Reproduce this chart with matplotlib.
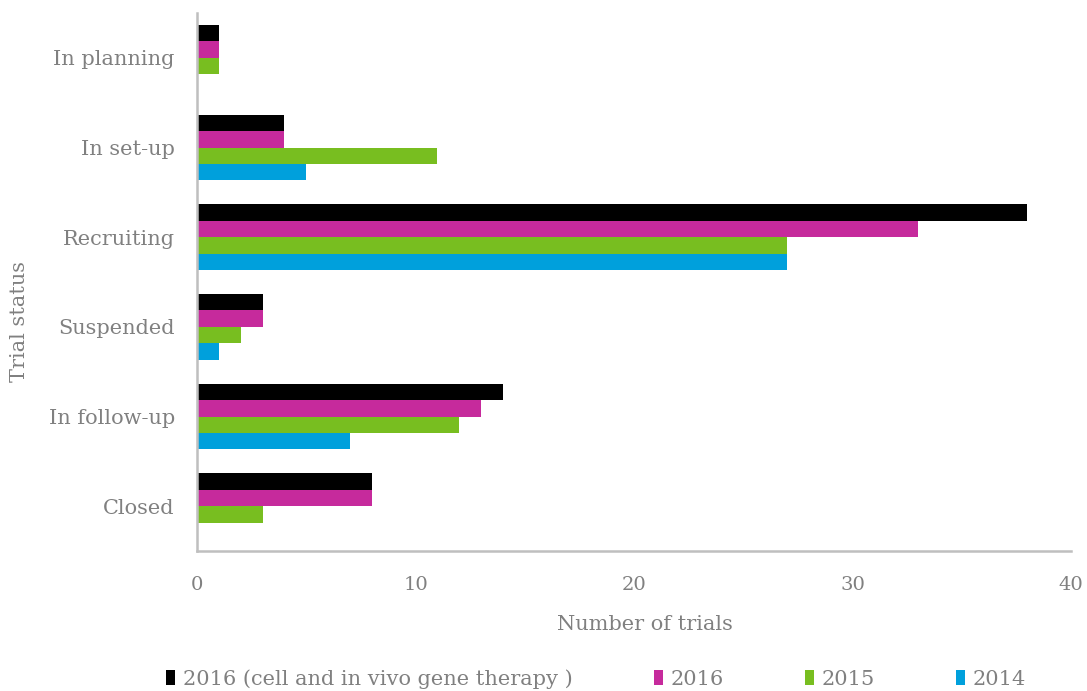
import matplotlib
matplotlib.use("Agg")
import matplotlib.pyplot as plt
import numpy as np

statuses = ["In planning", "In set-up", "Recruiting", "Suspended", "In follow-up", "Closed"]
series_names = ["2016 (cell and in vivo gene therapy )", "2016", "2015", "2014"]
gene_cell_2016 = [1, 4, 38, 3, 14, 8]
trials_2016 = [1, 4, 33, 3, 13, 8]
trials_2015 = [1, 11, 27, 2, 12, 3]
trials_2014 = [0, 5, 27, 1, 7, 0]
colors = ["#000000", "#c62a9c", "#78be20", "#00a0dc"]

text_color = "#808080"
plt.rcParams["font.family"] = ["DejaVu Serif"]

fig = plt.figure(figsize=(10.87, 6.91), dpi=100)
ax = fig.add_axes([197 / 1087, 1 - 551 / 691, (1071 - 197) / 1087, (551 - 13) / 691])

y = np.arange(len(statuses))
h = 0.183
all_series = [gene_cell_2016, trials_2016, trials_2015, trials_2014]
for k, (vals, col, name) in enumerate(zip(all_series, colors, series_names)):
    offs = (k - 1.5) * h
    ax.barh(y + offs, vals, height=h, color=col, label=name, linewidth=0)

ax.set_ylim(len(statuses) - 0.5, -0.5)
ax.set_xlim(0, 40)
ax.set_xticks([0, 10, 20, 30, 40])
ax.set_yticks(y)
ax.set_yticklabels(statuses)

for s in ["top", "right"]:
    ax.spines[s].set_visible(False)
for s in ["left", "bottom"]:
    ax.spines[s].set_color("#bfbfbf")
    ax.spines[s].set_linewidth(1.8)

ax.tick_params(axis="x", length=0, pad=18, labelsize=14, labelcolor=text_color)
ax.tick_params(axis="y", length=0, pad=16, labelsize=15, labelcolor=text_color)

fig.text(645 / 1087, 1 - 625 / 691, "Number of trials", ha="center", va="center",
         fontsize=15, color=text_color)
fig.text(20 / 1087, 1 - 321 / 691, "Trial status", ha="center", va="center",
         rotation=90, fontsize=15, color=text_color)

leg = fig.legend(loc="center", bbox_to_anchor=(596 / 1087, 1 - 679 / 691), ncol=4,
                 frameon=False, fontsize=15, handlelength=0.45, handleheight=0.7,
                 handletextpad=0.35, columnspacing=3.9, borderpad=0)
for t in leg.get_texts():
    t.set_color(text_color)

fig.savefig("out.png", dpi=100, facecolor="white")
